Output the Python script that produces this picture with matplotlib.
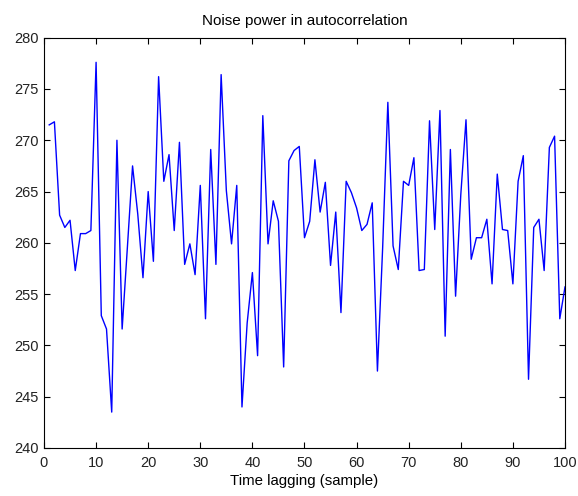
import numpy as np
import matplotlib
matplotlib.use("Agg")
import matplotlib.pyplot as plt

# noise power per lag
lags = list(range(1, 101))
power = [271.5, 271.8, 262.7, 261.5, 262.2, 257.3, 260.9, 260.9, 261.2, 277.6,
         252.9, 251.6, 243.5, 270.0, 251.6, 259.5, 267.5, 262.8, 256.6, 265.0,
         258.2, 276.2, 266.0, 268.6, 261.2, 269.8, 257.9, 259.9, 256.9, 265.6,
         252.6, 269.1, 257.9, 276.4, 265.1, 259.9, 265.6, 244.0, 252.2, 257.1,
         249.0, 272.4, 259.9, 264.1, 262.1, 247.9, 268.0, 269.0, 269.4, 260.5,
         262.1, 268.1, 263.0, 265.9, 257.8, 263.0, 253.2, 266.0, 264.9, 263.4,
         261.2, 261.8, 263.9, 247.5, 259.5, 273.7, 259.7, 257.4, 266.0, 265.6,
         268.3, 257.3, 257.4, 271.9, 261.3, 272.9, 250.9, 269.1, 254.8, 264.7,
         272.0, 258.4, 260.5, 260.5, 262.3, 256.0, 266.7, 261.3, 261.2, 256.0,
         266.0, 268.5, 246.7, 261.5, 262.3, 257.3, 269.3, 270.4, 252.6, 255.7]

xticks = np.arange(0, 101, 10)
yticks = np.arange(240, 281, 5)

plt.rcParams['font.family'] = ['Liberation Sans', 'DejaVu Sans']

fig = plt.figure(figsize=(5.78, 4.96), dpi=100)
ax = fig.add_axes([0.0761, 0.0968, 0.9014, 0.8272])
ax.plot(lags, power, color='#0000ff', linewidth=1.0)
ax.set_xlim(0, 100)
ax.set_ylim(240, 280)
ax.set_xticks(xticks)
ax.set_yticks(yticks)
ax.tick_params(direction='in', top=True, right=True, labelsize=10.5,
               length=4, pad=4, labelcolor='#222222')
ax.tick_params(axis='x', pad=6)
ax.set_title("Noise power in autocorrelation", fontsize=11, pad=9)
ax.set_xlabel("Time lagging (sample)", fontsize=10.8, labelpad=3)
for s in ax.spines.values():
    s.set_linewidth(0.8)

plt.savefig("out.png", dpi=100)
